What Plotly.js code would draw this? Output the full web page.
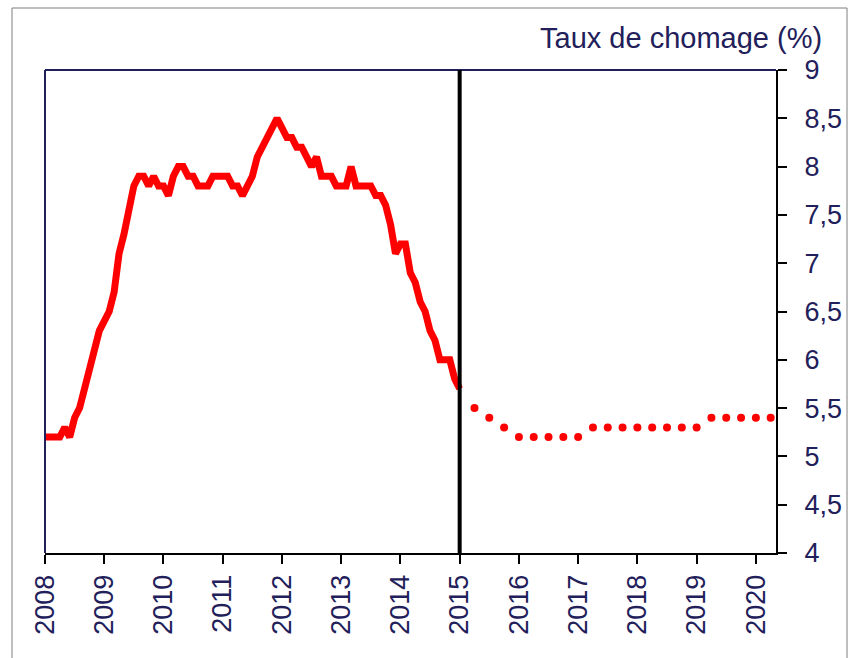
<!DOCTYPE html>
<html>
<head>
<meta charset="utf-8">
<script src="https://cdn.plot.ly/plotly-3.0.1.min.js"></script>
<style>
  html, body { margin: 0; padding: 0; background: #ffffff; }
  #chart { width: 856px; height: 658px; }
</style>
</head>
<body>
<div id="chart"></div>
<script>
// Monthly observed unemployment rate, Jan 2008 .. Jan 2015
const obsStartYear = 2008;
const obsValues = [
  5.2, 5.2, 5.2, 5.2, 5.3, 5.2, 5.4, 5.5, 5.7, 5.9, 6.1, 6.3,
  6.4, 6.5, 6.7, 7.1, 7.3, 7.6, 7.8, 7.9, 7.9, 7.8, 7.9, 7.8,
  7.8, 7.7, 7.9, 8.0, 8.0, 7.9, 7.9, 7.8, 7.8, 7.8, 7.9, 7.9,
  7.9, 7.9, 7.8, 7.8, 7.7, 7.8, 7.9, 8.1, 8.2, 8.3, 8.4, 8.5,
  8.4, 8.3, 8.3, 8.2, 8.2, 8.1, 8.0, 8.1, 7.9, 7.9, 7.9, 7.8,
  7.8, 7.8, 8.0, 7.8, 7.8, 7.8, 7.8, 7.7, 7.7, 7.6, 7.4, 7.1,
  7.2, 7.2, 6.9, 6.8, 6.6, 6.5, 6.3, 6.2, 6.0, 6.0, 6.0, 5.8,
  5.7
];
// Quarterly projection, Q2 2015 .. Q2 2020
const projStartYear = 2015.25;
const projValues = [
  5.5, 5.4, 5.3, 5.2, 5.2, 5.2, 5.2, 5.2,
  5.3, 5.3, 5.3, 5.3, 5.3, 5.3, 5.3, 5.3,
  5.4, 5.4, 5.4, 5.4, 5.4
];
const yearTicks = [2008, 2009, 2010, 2011, 2012, 2013, 2014, 2015, 2016, 2017, 2018, 2019, 2020];
const yearLabels = yearTicks.map(String);
const forecastStart = 2015;
const titleText = "Taux de chomage (%)";

const obsX = obsValues.map((_, i) => obsStartYear + i / 12);
const projX = projValues.map((_, i) => projStartYear + i / 4);

const navy = "#22205a";
const fontFam = "Liberation Sans, Arial, sans-serif";

// plot area in pixels
const W = 856, H = 658;
const L = 45, R = 776, T = 70, B = 553;
const pw = R - L, ph = B - T;
const px = v => (v - L) / pw;
const py = v => (B - v) / ph;

const traces = [
  {
    x: obsX, y: obsValues, type: "scatter", mode: "lines",
    line: { color: "#ff0000", width: 7 },
    hoverinfo: "skip"
  },
  {
    x: projX, y: projValues, type: "scatter", mode: "markers",
    marker: { color: "#ff0000", size: 8 },
    hoverinfo: "skip"
  }
];

const layout = {
  width: W, height: H,
  margin: { l: L, r: W - R, t: T, b: H - B, pad: 0 },
  paper_bgcolor: "#ffffff",
  plot_bgcolor: "#ffffff",
  showlegend: false,
  separators: ", ",
  font: { family: fontFam, color: navy },
  xaxis: {
    range: [2008, 2020.34],
    tickvals: yearTicks, ticktext: yearLabels,
    tickangle: -90,
    ticks: "outside", ticklen: 9, tickwidth: 2, tickcolor: "#000000",
    showline: true, linecolor: "#000000", linewidth: 2,
    showgrid: false, zeroline: false,
    tickfont: { size: 27, color: navy, family: fontFam }
  },
  yaxis: {
    range: [4, 9], side: "right",
    tick0: 4, dtick: 0.5,
    ticks: "outside", ticklen: 9, tickwidth: 2, tickcolor: "#000000",
    ticklabelstandoff: 12,
    showline: true, linecolor: "#000000", linewidth: 2,
    showgrid: false, zeroline: false,
    tickfont: { size: 27, color: navy, family: fontFam }
  },
  shapes: [
    { type: "line", xref: "paper", yref: "paper", x0: 0, x1: 0, y0: 0, y1: 1,
      line: { color: navy, width: 2 } },
    { type: "line", xref: "paper", yref: "paper", x0: 0, x1: 1, y0: 1, y1: 1,
      line: { color: navy, width: 2 } },
    { type: "line", xref: "x", yref: "paper", x0: forecastStart, x1: forecastStart, y0: 0, y1: 1,
      line: { color: "#000000", width: 4 } },
    { type: "rect", xref: "paper", yref: "paper",
      x0: px(12), x1: px(847), y0: py(700), y1: py(8),
      line: { color: "#7f7f7f", width: 1 }, fillcolor: "rgba(0,0,0,0)" }
  ],
  annotations: [
    { text: titleText, xref: "paper", yref: "paper",
      x: px(824), y: py(38), xanchor: "right", yanchor: "middle",
      showarrow: false, font: { size: 29, color: navy, family: fontFam } }
  ]
};

Plotly.newPlot("chart", traces, layout, { displayModeBar: false, staticPlot: true });
</script>
</body>
</html>
